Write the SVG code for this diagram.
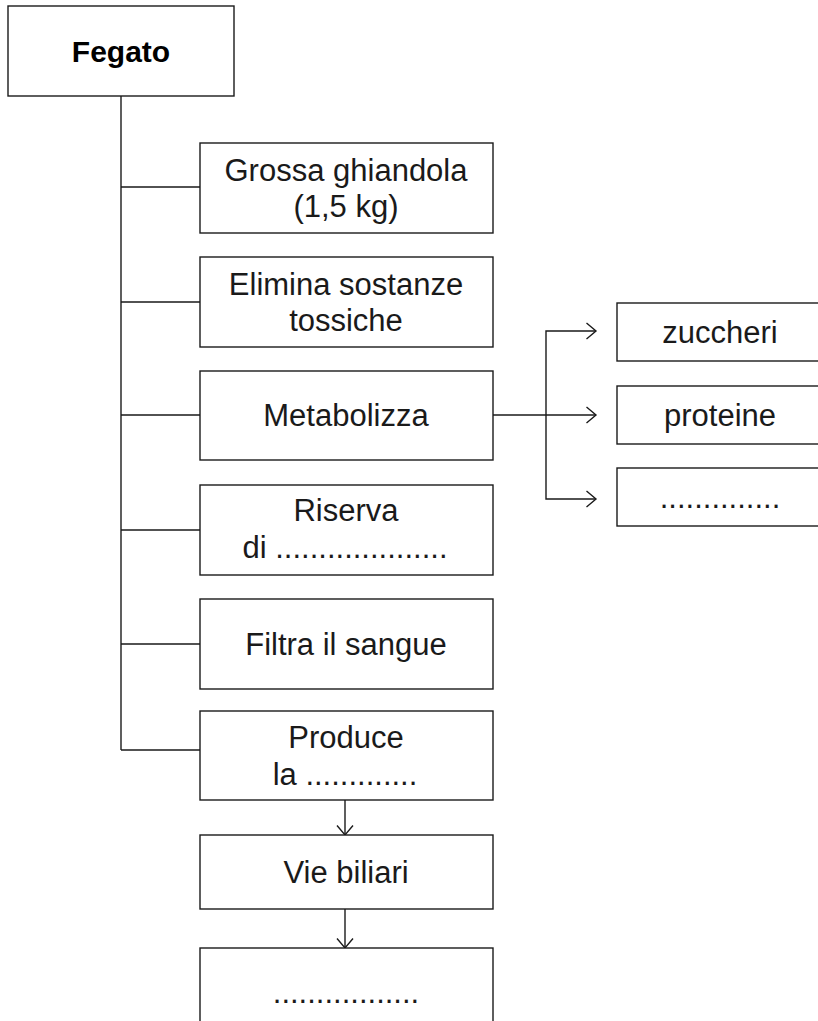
<svg xmlns="http://www.w3.org/2000/svg" width="818" height="1021" viewBox="0 0 818 1021">
<style>
.box{fill:#fff;stroke:#1a1a1a;stroke-width:1.4}
.t{font-family:"Liberation Sans",Arial,sans-serif;font-size:31px;fill:#1a1a1a;text-anchor:middle}
.b{font-weight:bold;fill:#000;font-size:30px}
.ln{fill:none;stroke:#1a1a1a;stroke-width:1.4}
</style>
<defs>
<marker id="ah" markerUnits="userSpaceOnUse" markerWidth="14" markerHeight="20" viewBox="0 0 14 20" refX="11" refY="10" orient="auto">
<path d="M1.5,2 L11,10 L1.5,18" fill="none" stroke="#1a1a1a" stroke-width="1.4"/>
</marker>
</defs>
<g id="connectors">
<path class="ln" d="M121,96 V750"/>
<path class="ln" d="M121,187 H200 M121,302 H200 M121,415 H200 M121,530 H200 M121,644 H200 M121,750 H200"/>
<path class="ln" d="M493,415 H596" marker-end="url(#ah)"/>
<path class="ln" d="M546,415 V331 H596" marker-end="url(#ah)"/>
<path class="ln" d="M546,415 V499 H596" marker-end="url(#ah)"/>
<path class="ln" d="M345,800 V835" marker-end="url(#ah)"/>
<path class="ln" d="M345,909 V948" marker-end="url(#ah)"/>
</g>
<g id="fegato"><rect class="box" x="8" y="6" width="226" height="90"/><text class="t b" x="121" y="62">Fegato</text></g>
<g id="grossa"><rect class="box" x="200" y="143" width="293" height="90"/><text class="t" x="346" y="180.5">Grossa ghiandola</text><text class="t" x="346" y="216.5">(1,5 kg)</text></g>
<g id="elimina"><rect class="box" x="200" y="257" width="293" height="90"/><text class="t" x="346" y="294.5">Elimina sostanze</text><text class="t" x="346" y="330.5">tossiche</text></g>
<g id="metabolizza"><rect class="box" x="200" y="371" width="293" height="89"/><text class="t" x="346" y="426">Metabolizza</text></g>
<g id="riserva"><rect class="box" x="200" y="485" width="293" height="90"/><text class="t" x="346" y="521">Riserva</text><text class="t" x="345" y="558">di ....................</text></g>
<g id="filtra"><rect class="box" x="200" y="599" width="293" height="90"/><text class="t" x="346" y="654.5">Filtra il sangue</text></g>
<g id="produce"><rect class="box" x="200" y="711" width="293" height="89"/><text class="t" x="346" y="747.5">Produce</text><text class="t" x="345" y="784.5">la .............</text></g>
<g id="vie"><rect class="box" x="200" y="835" width="293" height="74"/><text class="t" x="346" y="882.5">Vie biliari</text></g>
<g id="ultimo"><rect class="box" x="200" y="948" width="293" height="90"/><text class="t" x="346" y="1003">.................</text></g>
<g id="zuccheri"><rect class="box" x="617" y="303" width="206" height="58"/><text class="t" x="720" y="342.5">zuccheri</text></g>
<g id="proteine"><rect class="box" x="617" y="386" width="206" height="58"/><text class="t" x="720" y="425.5">proteine</text></g>
<g id="altro"><rect class="box" x="617" y="468" width="206" height="58"/><text class="t" x="720" y="507.5">..............</text></g>
</svg>
